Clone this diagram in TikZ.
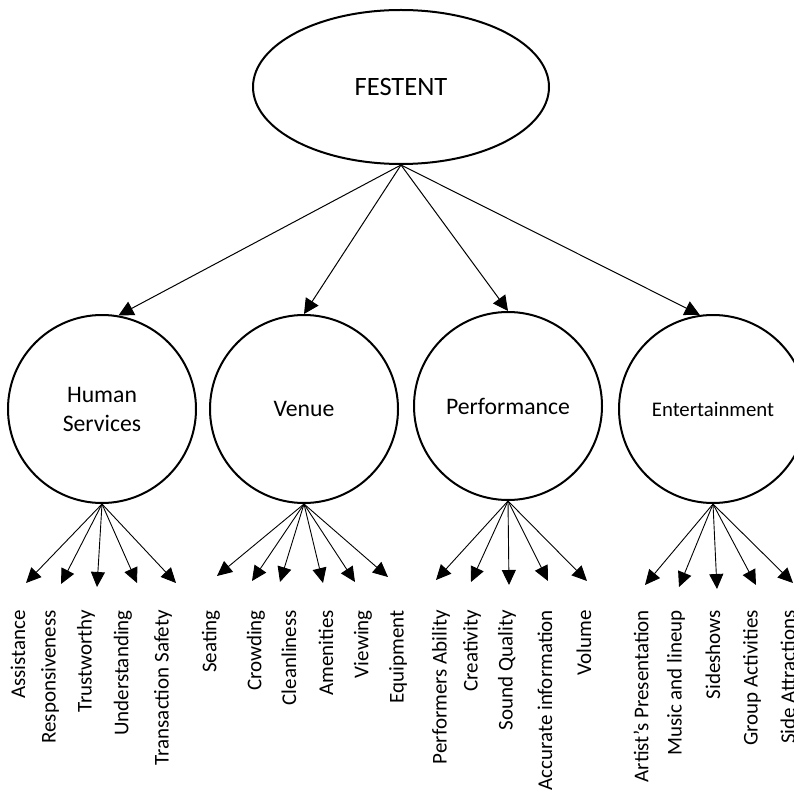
\documentclass[tikz,border=0pt]{standalone}
\usepackage{fontspec}
\setmainfont{Carlito}
\usetikzlibrary{shapes.geometric,arrows.meta}
\begin{document}
\begin{tikzpicture}[x=1pt, y=-1pt,
  root/.style={ellipse, draw, line width=2pt, minimum width=296pt, minimum height=154pt,
    inner sep=0pt, font=\fontsize{26.5}{30}\selectfont},
  factor/.style={circle, draw, line width=2pt, minimum size=188pt, inner sep=0pt,
    align=center, font=\fontsize{23.7}{29}\selectfont},
  item/.style={rotate=90, anchor=east, inner sep=0pt, font=\fontsize{21}{25}\selectfont},
  link/.style={-{Triangle[length=15pt,width=15pt]}, line width=1pt},
  fan/.style={-{Triangle[length=15pt,width=14pt]}, line width=0.9pt}]
\useasboundingbox (0,0) rectangle (794,791);
\clip (0,0) rectangle (794,791);

% top level
\node[root] (fest) at (401,87) {FESTENT};

% dimensions
\node[factor] (hs)   at (102,409) {Human\\Services};
\node[factor] (ven)  at (304,409) {Venue};
\node[factor] (perf) at (508,406) {Performance};
\node[factor, font=\fontsize{20.8}{25}\selectfont] (ent) at (713,409) {Entertainment};

\draw[link] (fest.south) -- (hs.80);
\draw[link] (fest.south) -- (ven.north);
\draw[link] (fest.south) -- (perf.north);
\draw[link] (fest.south) -- (ent.98);

% human services items
\node[item] (assist) at (18,610) {Assistance};
\node[item] (respon) at (50,610) {Responsiveness};
\node[item] (trust)  at (86,610) {Trustworthy};
\node[item] (under)  at (123,610) {Understanding};
\node[item] (trans)  at (163,610) {Transaction Safety};
\coordinate (assist-t) at (26,583);
\coordinate (respon-t) at (61,584);
\coordinate (trust-t)  at (97,587);
\coordinate (under-t)  at (137,583);
\coordinate (trans-t)  at (176,583);
\draw (hs.south) edge[fan] (assist-t) edge[fan] (respon-t) edge[fan] (trust-t)
  edge[fan] (under-t) edge[fan] (trans-t);

% venue items
\node[item] (seat)  at (211,610) {Seating};
\node[item] (crowd) at (256,610) {Crowding};
\node[item] (clean) at (289,610) {Cleanliness};
\node[item] (amen)  at (326,610) {Amenities};
\node[item] (view)  at (363,610) {Viewing};
\node[item] (equip) at (398,610) {Equipment};
\coordinate (seat-t)  at (217,576);
\coordinate (crowd-t) at (252,581);
\coordinate (clean-t) at (280,582);
\coordinate (amen-t)  at (323,583);
\coordinate (view-t)  at (355,582);
\coordinate (equip-t) at (388,577);
\draw (ven.south) edge[fan] (seat-t) edge[fan] (crowd-t) edge[fan] (clean-t)
  edge[fan] (amen-t) edge[fan] (view-t) edge[fan] (equip-t);

% performance items
\node[item] (ability) at (441,610) {Performers Ability};
\node[item] (creat)   at (472,610) {Creativity};
\node[item] (sound)   at (507,610) {Sound Quality};
\node[item] (accur)   at (545,610) {Accurate information};
\node[item] (vol)     at (584,610) {Volume};
\coordinate (ability-t) at (436,580);
\coordinate (creat-t)   at (471,582);
\coordinate (sound-t)   at (509,585);
\coordinate (accur-t)   at (548,581);
\coordinate (vol-t)     at (587,581);
\draw (perf.south) edge[fan] (ability-t) edge[fan] (creat-t) edge[fan] (sound-t)
  edge[fan] (accur-t) edge[fan] (vol-t);

% entertainment items
\node[item] (artist) at (641,610) {Artist’s Presentation};
\node[item] (music)  at (676,610) {Music and lineup};
\node[item] (side)   at (713,610) {Sideshows};
\node[item] (group)  at (752,610) {Group Activities};
\node[item] (attr)   at (788,610) {Side Attractions};
\coordinate (artist-t) at (645,585);
\coordinate (music-t)  at (679,587);
\coordinate (side-t)   at (717,589);
\coordinate (group-t)  at (756,585);
\coordinate (attr-t)   at (793,583);
\draw (ent.south) edge[fan] (artist-t) edge[fan] (music-t) edge[fan] (side-t)
  edge[fan] (group-t) edge[fan] (attr-t);
\end{tikzpicture}
\end{document}
